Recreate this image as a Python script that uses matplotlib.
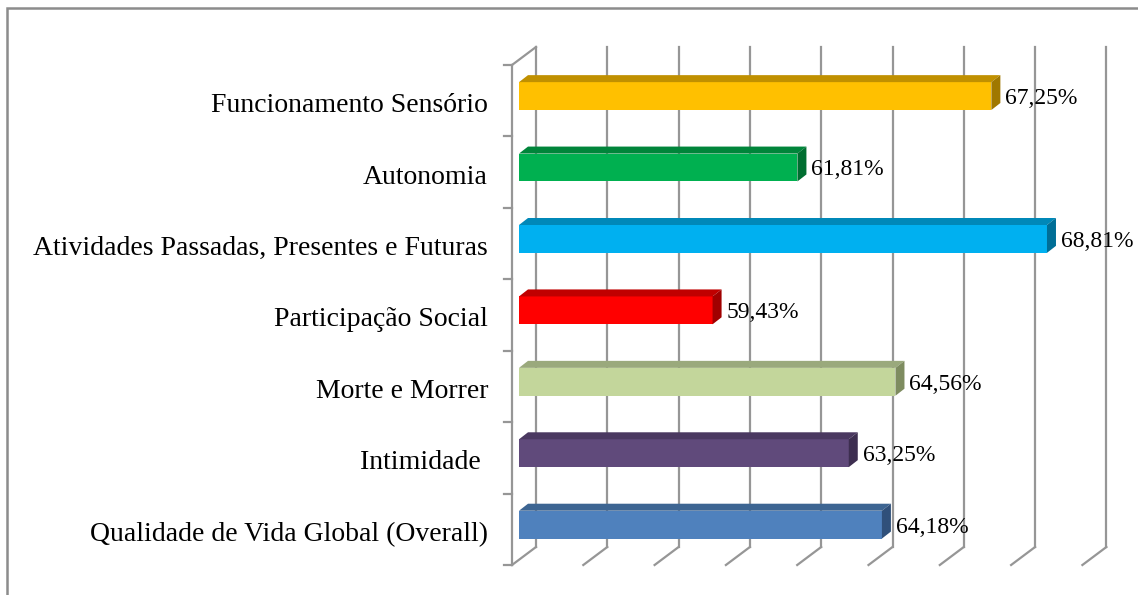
import numpy as np
import matplotlib
matplotlib.use("Agg")
import matplotlib.pyplot as plt
from matplotlib.patches import Polygon, Rectangle

plt.rcParams['font.family'] = ['Liberation Serif', 'DejaVu Serif']

# dados (de baixo para cima)
categorias = ['Qualidade de Vida Global (Overall)', 'Intimidade ', 'Morte e Morrer',
              'Participação Social', 'Atividades Passadas, Presentes e Futuras',
              'Autonomia', 'Funcionamento Sensório']
valores = [64.18, 63.25, 64.56, 59.43, 68.81, 61.81, 67.25]
rotulos = ['64,18%', '63,25%', '64,56%', '59,43%', '68,81%', '61,81%', '67,25%']
cor_frente = ['#4F81BD', '#604A7B', '#C3D69B', '#FF0000', '#00B0F0', '#00B050', '#FFC000']
cor_topo = ['#3D6592', '#4A3860', '#9AA97C', '#C00000', '#0088B8', '#00853A', '#C09000']
cor_lado = ['#30507A', '#3D2E50', '#7E8C60', '#A00000', '#006E96', '#006E30', '#A07800']
grade = np.arange(54, 71, 2)

xmin = 54.0
px_x = 35.65   # pixels por %
px_y = 71.43   # pixels por categoria
W, H = 1138, 595

fig = plt.figure(figsize=(W / 100, H / 100), dpi=100)
ax = fig.add_axes([0, 0, 1, 1])
ax.set_xlim(xmin - 512 / px_x, xmin + (W - 512) / px_x)
ax.set_ylim(-(H - 565) / px_y, 7 + 65 / px_y)
ax.axis('off')

# profundidade das paredes e das barras
dx, dy = 24 / px_x, 18 / px_y
sx, sy = 7 / px_x, 0.065
bdx, bdy = 9 / px_x, 7 / px_y
alt = 0.39
cinza = '#969696'
lw = 1.6

# grade vertical (parede do fundo) e diagonais do chao
for g in grade:
    ax.plot([g + dx, g + dx], [dy, 7 + dy], color=cinza, lw=lw, zorder=1)
    ax.plot([g, g + dx], [0, dy], color=cinza, lw=lw, zorder=1)
# parede lateral
ax.plot([xmin, xmin], [0, 7], color=cinza, lw=lw, zorder=1)
ax.plot([xmin, xmin + dx], [7, 7 + dy], color=cinza, lw=lw, zorder=1)
for k in range(8):
    ax.plot([xmin - 8 / px_x, xmin], [k, k], color=cinza, lw=lw, zorder=1)

n = len(categorias)
for i in range(n):
    v = valores[i]
    x0 = xmin + sx
    x1 = v + sx
    yb = i + 0.5 + sy - alt / 2
    yt = yb + alt
    ax.barh(i + 0.5 + sy, v - xmin, left=x0, height=alt, color=cor_frente[i], zorder=3)
    ax.add_patch(Polygon([(x0, yt), (x1, yt), (x1 + bdx, yt + bdy), (x0 + bdx, yt + bdy)],
                         closed=True, facecolor=cor_topo[i], edgecolor='none', zorder=3))
    ax.add_patch(Polygon([(x1, yb), (x1, yt), (x1 + bdx, yt + bdy), (x1 + bdx, yb + bdy)],
                         closed=True, facecolor=cor_lado[i], edgecolor='none', zorder=3))
    ax.text(x1 + bdx + 5 / px_x, i + 0.53, rotulos[i], fontsize=17,
            ha='left', va='center', zorder=4)
    ax.text(xmin - 24 / px_x, i + 0.43, categorias[i], fontsize=20,
            ha='right', va='center', zorder=4)

# moldura
fig.add_artist(Rectangle((7 / W, -0.1), 1.2, 1 - 8 / H + 0.1, transform=fig.transFigure,
                         fill=False, edgecolor='#8C8C8C', lw=1.8))

fig.savefig('out.png', dpi=100)
